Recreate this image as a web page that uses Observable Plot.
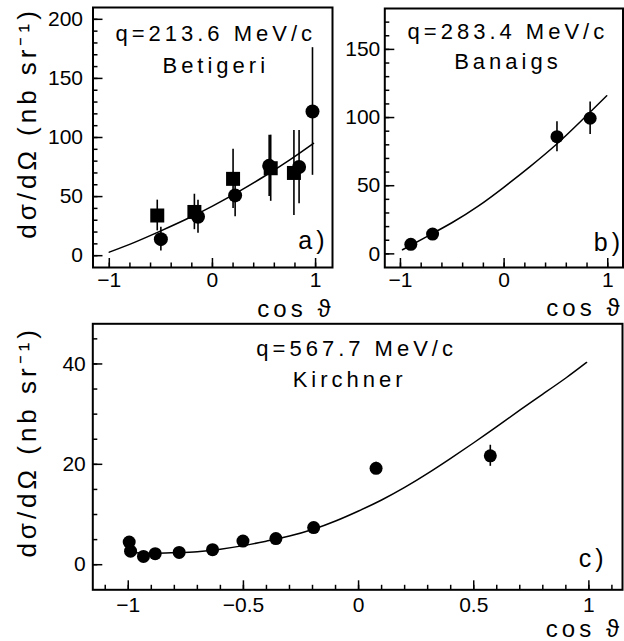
<!DOCTYPE html>
<html><head><meta charset="utf-8">
<script src="https://cdn.jsdelivr.net/npm/d3@7"></script>
<script src="https://cdn.jsdelivr.net/npm/@observablehq/plot@0.6"></script>
<style>
html,body{margin:0;padding:0;background:#fff;}
#chart{position:relative;width:624px;height:641px;background:#fff;overflow:hidden;}
#chart svg{position:absolute;left:0;top:0;}
#chart g[aria-label="text"] text{letter-spacing:4px;}
</style></head><body><div id="chart"></div>
<script>
// ---------- Panel a: q=213.6 MeV/c, Betigeri ----------
const aCircCos = [-0.50, -0.14, 0.22, 0.55, 0.84, 0.97];
const aCircVal = [14, 33, 51, 76, 75, 122];
const aCircErr = [10, 14, 18, 26, 31, 54];
const aSqCos = [-0.535, -0.175, 0.20, 0.565, 0.79];
const aSqVal = [34, 37, 65, 74, 70];
const aSqErr = [13, 15, 25, 28, 36];
const aFitCos = [-1, -0.75, -0.5, -0.25, 0, 0.25, 0.5, 0.75, 0.98];
const aFitVal = [3, 11.5, 21, 31, 42, 54, 67, 81, 95];
const aXTicks = [-1, 0, 1];
const aYTicks = [0, 50, 100, 150, 200];

// ---------- Panel b: q=283.4 MeV/c, Banaigs ----------
const bCos = [-0.90, -0.69, 0.51, 0.83];
const bVal = [7, 14.5, 86, 99.5];
const bErr = [2.5, 3, 11, 12];
const bFitCos = [-0.98, -0.75, -0.5, -0.25, 0, 0.25, 0.5, 0.75, 0.99];
const bFitVal = [3, 12.5, 23, 35, 49, 64, 80, 98, 116];
const bXTicks = [-1, 0, 1];
const bYTicks = [0, 50, 100, 150];

// ---------- Panel c: q=567.7 MeV/c, Kirchner ----------
const cCos = [-0.996, -0.99, -0.934, -0.883, -0.779, -0.634, -0.502, -0.359, -0.195, 0.076, 0.572];
const cVal = [4.5, 2.7, 1.65, 2.2, 2.45, 3.0, 4.7, 5.2, 7.4, 19.2, 21.7];
const cErr = [0.4, 0.4, 0.3, 0.3, 0.3, 0.4, 0.5, 0.5, 0.7, 1.2, 2.1];
const cFitCos = [-1, -0.9, -0.8, -0.7, -0.6, -0.5, -0.4, -0.3, -0.2, -0.1, 0, 0.1, 0.2, 0.3, 0.4, 0.5, 0.6, 0.7, 0.8, 0.9, 0.99];
const cFitVal = [2.5, 2.3, 2.4, 2.6, 3.1, 3.8, 4.7, 5.7, 7.0, 8.7, 10.7, 12.9, 15.4, 18.2, 21.2, 24.3, 27.5, 30.8, 34.0, 37.2, 40.3];
const cXTicks = [-1, -0.5, 0, 0.5, 1];
const cYTicks = [0, 20, 40];

const yLabel = "dσ/dΩ (nb sr⁻¹)";
const xLabel = "cos ϑ";

const rows = (xs, ys, es) => xs.map((x, i) => ({x, y: ys[i], e: es ? es[i] : 0}));
const fmt = d => (d < 0 ? "\u2212" : "") + String(Math.abs(d));

function panel(cfg) {
  const marks = [
    Plot.axisX(cfg.xMinor, {tickSize: -4.5, text: null, strokeWidth: 1.5, label: null}),
    Plot.axisX(cfg.xTicks, {tickSize: -9, tickPadding: cfg.xPad, fontSize: 21, strokeWidth: 1.5, label: null, tickFormat: fmt}),
    Plot.axisY(cfg.yMinor, {tickSize: -5, text: null, strokeWidth: 1.5, label: null}),
    Plot.axisY(cfg.yTicks, {tickSize: -10, tickPadding: cfg.yPad, fontSize: 21, strokeWidth: 1.5, label: null, tickFormat: fmt}),
    Plot.frame({strokeWidth: 2}),
    Plot.line(cfg.fit, {x: "x", y: "y", curve: "natural", stroke: "black", strokeWidth: 1.5})
  ];
  for (const s of cfg.series) {
    marks.push(Plot.ruleX(s.data, {x: "x", y1: d => d.y - d.e, y2: d => d.y + d.e, stroke: "black", strokeWidth: 1.6}));
    marks.push(Plot.dot(s.data, {x: "x", y: "y", r: s.r, symbol: s.symbol, fill: "black", stroke: "none"}));
  }
  for (const t of cfg.texts) {
    marks.push(Plot.text([t.text], {frameAnchor: t.fa, textAnchor: t.ta, lineAnchor: t.la || "bottom",
      dx: t.dx, dy: t.dy, fontSize: t.fs, rotate: t.rot || 0, fill: "black"}));
  }
  return Plot.plot({
    width: 624, height: 641,
    marginLeft: cfg.m[0], marginRight: cfg.m[1], marginTop: cfg.m[2], marginBottom: cfg.m[3],
    x: {domain: cfg.xDomain, label: null},
    y: {domain: cfg.yDomain, label: null},
    style: {background: "transparent", overflow: "visible", fontFamily: "'Liberation Sans', Arial, sans-serif", color: "black"},
    marks
  });
}

const chart = document.getElementById("chart");

chart.append(panel({
  m: [92.5, 292, 7, 374],
  xDomain: [-1.158, 1.164], yDomain: [-10, 210],
  xTicks: aXTicks, xMinor: d3.range(-1, 1.01, 0.2), xPad: 14,
  yTicks: aYTicks, yMinor: d3.range(0, 201, 10), yPad: 20,
  fit: rows(aFitCos, aFitVal),
  series: [
    {data: rows(aSqCos, aSqVal, aSqErr), symbol: "square", r: 7.9},
    {data: rows(aCircCos, aCircVal, aCircErr), symbol: "circle", r: 7}
  ],
  texts: [
    {text: "q=213.6 MeV/c", fa: "top", ta: "middle", dx: 3, dy: 33, fs: 22},
    {text: "Betigeri", fa: "top", ta: "middle", dx: 3, dy: 65, fs: 22},
    {text: "a)", fa: "bottom-right", ta: "end", dx: -4, dy: -19, fs: 25},
    {text: xLabel, fa: "bottom-right", ta: "end", dx: 2, dy: 49, fs: 24},
    {text: yLabel, fa: "left", ta: "middle", dx: -57, dy: -14.5, fs: 26, rot: -90}
  ]
}));

chart.append(panel({
  m: [384.3, 1.5, 8, 374],
  xDomain: [-1.151, 1.147], yDomain: [-10, 180],
  xTicks: bXTicks, xMinor: d3.range(-1, 1.01, 0.2), xPad: 14,
  yTicks: bYTicks, yMinor: d3.range(0, 171, 10), yPad: 14.5,
  fit: rows(bFitCos, bFitVal),
  series: [
    {data: rows(bCos, bVal, bErr), symbol: "circle", r: 6.5}
  ],
  texts: [
    {text: "q=283.4 MeV/c", fa: "top", ta: "middle", dx: 4, dy: 30, fs: 22},
    {text: "Banaigs", fa: "top", ta: "middle", dx: 4, dy: 60, fs: 22},
    {text: "b)", fa: "bottom-right", ta: "end", dx: 1, dy: -17, fs: 25},
    {text: xLabel, fa: "bottom-right", ta: "end", dx: 0.5, dy: 48, fs: 24}
  ]
}));

chart.append(panel({
  m: [92.3, 2, 323.3, 51.7],
  xDomain: [-1.154, 1.146], yDomain: [-5, 48],
  xTicks: cXTicks, xMinor: d3.range(-1.1, 1.11, 0.1), xPad: 16,
  yTicks: cYTicks, yMinor: d3.range(0, 46, 5), yPad: 17,
  fit: rows(cFitCos, cFitVal),
  series: [
    {data: rows(cCos, cVal, cErr), symbol: "circle", r: 6.5}
  ],
  texts: [
    {text: "q=567.7 MeV/c", fa: "top", ta: "middle", dx: -1, dy: 31.7, fs: 22},
    {text: "Kirchner", fa: "top", ta: "middle", dx: -8, dy: 63.4, fs: 22},
    {text: "c)", fa: "bottom-right", ta: "end", dx: -15, dy: -22.6, fs: 25},
    {text: xLabel, fa: "bottom-right", ta: "end", dx: 0.5, dy: 47, fs: 24},
    {text: yLabel, fa: "left", ta: "middle", dx: -57, dy: -15, fs: 26, rot: -90}
  ]
}));
</script></body></html>
